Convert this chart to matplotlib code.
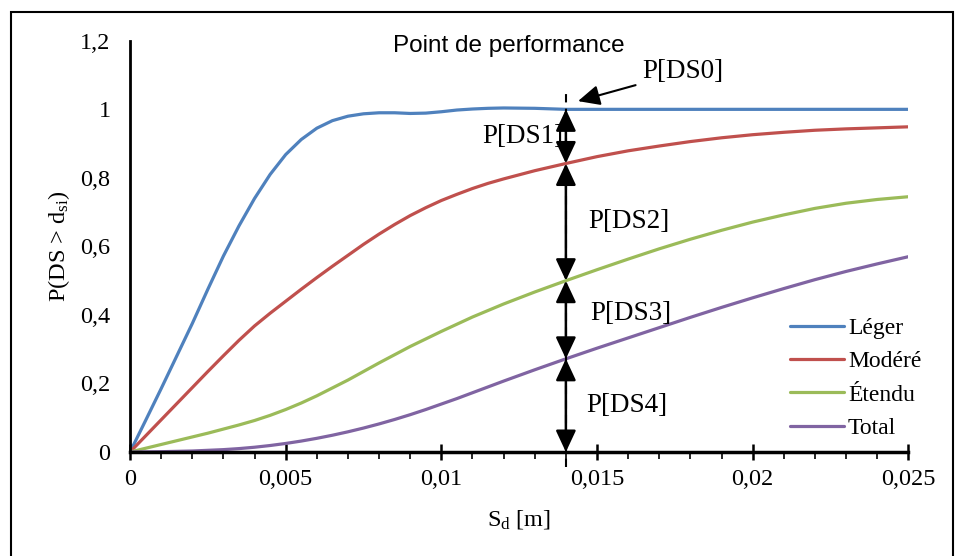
import numpy as np
import matplotlib
matplotlib.use("Agg")
import matplotlib.pyplot as plt
from matplotlib.patches import Rectangle
from matplotlib.ticker import MultipleLocator, FuncFormatter

plt.rcParams['font.family'] = ['Liberation Serif', 'DejaVu Serif']
plt.rcParams['mathtext.fontset'] = 'custom'
plt.rcParams['mathtext.rm'] = 'Liberation Serif'
plt.rcParams['mathtext.it'] = 'Liberation Serif:italic'

# Déplacement spectral Sd [m]
sd = [0, 0.0005, 0.001, 0.0015, 0.002, 0.0025, 0.003, 0.0035, 0.004, 0.0045,
      0.005, 0.0055, 0.006, 0.0065, 0.007, 0.0075, 0.008, 0.0085, 0.009, 0.0095,
      0.010, 0.0105, 0.011, 0.0115, 0.012, 0.013, 0.014, 0.015, 0.016, 0.017,
      0.018, 0.019, 0.020, 0.021, 0.022, 0.023, 0.024, 0.025]

# Courbes de fragilité
leger = [0, 0.092, 0.185, 0.28, 0.375, 0.475, 0.572, 0.66, 0.74, 0.81,
         0.868, 0.912, 0.945, 0.967, 0.98, 0.987, 0.990, 0.990, 0.988, 0.989,
         0.993, 0.998, 1.001, 1.003, 1.004, 1.003, 1.0, 1.0, 1.0, 1.0,
         1.0, 1.0, 1.0, 1.0, 1.0, 1.0, 1.0, 1.0]
modere = [0, 0.047, 0.094, 0.141, 0.188, 0.235, 0.281, 0.326, 0.368, 0.405,
          0.44, 0.475, 0.509, 0.542, 0.574, 0.606, 0.636, 0.664, 0.690, 0.713,
          0.734, 0.752, 0.769, 0.784, 0.797, 0.821, 0.842, 0.862, 0.879, 0.893,
          0.906, 0.917, 0.926, 0.933, 0.939, 0.943, 0.946, 0.949]
etendu = [0, 0.011, 0.022, 0.033, 0.044, 0.055, 0.067, 0.079, 0.092, 0.107,
          0.124, 0.143, 0.164, 0.187, 0.21, 0.235, 0.260, 0.284, 0.308, 0.330,
          0.352, 0.373, 0.394, 0.413, 0.432, 0.467, 0.500, 0.532, 0.563, 0.593,
          0.621, 0.647, 0.671, 0.692, 0.711, 0.726, 0.737, 0.745]
total = [0, 0.0005, 0.001, 0.002, 0.003, 0.005, 0.007, 0.010, 0.014, 0.019,
         0.025, 0.032, 0.040, 0.049, 0.059, 0.070, 0.082, 0.095, 0.109, 0.124,
         0.140, 0.156, 0.173, 0.190, 0.207, 0.240, 0.272, 0.303, 0.333, 0.363,
         0.393, 0.422, 0.450, 0.477, 0.503, 0.527, 0.549, 0.570]

noms = ['Léger', 'Modéré', 'Étendu', 'Total']
couleurs = ['#4F81BD', '#C0504D', '#9BBB59', '#8064A2']
sd_perf = 0.014  # point de performance

fig = plt.figure(figsize=(9.61, 5.56), dpi=100)
ax = fig.add_axes([0.1353, 0.187, 0.8099, 0.7396])

courbes = [leger, modere, etendu, total]
for y, nom, c in zip(courbes, noms, couleurs):
    ax.plot(sd, y, color=c, lw=2.3, label=nom, solid_capstyle='round',
            solid_joinstyle='round')

ax.set_xlim(0, 0.025)
ax.set_ylim(0, 1.2)
ax.xaxis.set_major_locator(MultipleLocator(0.005))
ax.xaxis.set_minor_locator(MultipleLocator(0.001))
ax.yaxis.set_major_locator(MultipleLocator(0.2))

def virgule(v, pos):
    s = f'{v:.3f}'.rstrip('0').rstrip('.')
    return s.replace('.', ',')

ax.xaxis.set_major_formatter(FuncFormatter(virgule))
ax.yaxis.set_major_formatter(FuncFormatter(virgule))

for s in ['top', 'right']:
    ax.spines[s].set_visible(False)
ax.spines['left'].set_linewidth(2)
ax.spines['bottom'].set_linewidth(2.5)
ax.tick_params(axis='x', which='major', direction='inout', length=12, width=1.8,
               labelsize=17.5, pad=6)
ax.tick_params(axis='x', which='minor', direction='out', length=5, width=1.2)
ax.tick_params(axis='y', length=0, labelsize=17.5, pad=14)

ax.set_xlabel(r'S$_{\mathrm{d}}$ [m]', fontsize=17.5, labelpad=13)
ax.set_ylabel(r'P(DS > d$_{\mathrm{si}}$)', fontsize=17.5, labelpad=6)

# Point de performance
ax.text(0.01217, 1.185, 'Point de performance', fontsize=17.5,
        family=['Liberation Sans', 'DejaVu Sans'], ha='center', va='center')
ax.plot([sd_perf, sd_perf], [-0.045, 1.045], color='k', lw=1.5,
        ls=(0, (4, 3)), clip_on=False, zorder=4)

niveaux = [float(np.interp(sd_perf, sd, y)) for y in courbes]
bornes = niveaux + [0.0]
for haut, bas in zip(bornes[:-1], bornes[1:]):
    ax.annotate('', xy=(sd_perf, bas), xytext=(sd_perf, haut),
                arrowprops=dict(arrowstyle='<|-|>,head_length=0.6,head_width=0.28',
                                mutation_scale=22, lw=1.8, color='k',
                                shrinkA=0, shrinkB=0), zorder=5)

ax.annotate('P[DS0]', xy=(0.01439, 1.024), xytext=(0.01776, 1.109),
            fontsize=19.5, ha='center', va='center',
            arrowprops=dict(arrowstyle='-|>,head_length=0.6,head_width=0.28',
                            mutation_scale=22, lw=1.5, color='k',
                            shrinkA=3, shrinkB=0))
ax.text(0.01262, 0.92, 'P[DS1]', fontsize=19.5, ha='center', va='center')
ax.text(0.01603, 0.672, 'P[DS2]', fontsize=19.5, ha='center', va='center')
ax.text(0.01609, 0.405, 'P[DS3]', fontsize=19.5, ha='center', va='center')
ax.text(0.01597, 0.137, 'P[DS4]', fontsize=19.5, ha='center', va='center')

ax.legend(loc='upper left', bbox_to_anchor=(0.836, 0.35), frameon=False,
          fontsize=17, handlelength=2.3, handletextpad=0.15, labelspacing=0.5,
          borderaxespad=0)

# cadre autour de la figure
fig.patches.append(Rectangle((11 / 961, -0.01), 942 / 961, 1 - 12 / 556 + 0.01,
                             transform=fig.transFigure, fill=False,
                             edgecolor='k', lw=1.5))

fig.savefig('out.png', dpi=100)
